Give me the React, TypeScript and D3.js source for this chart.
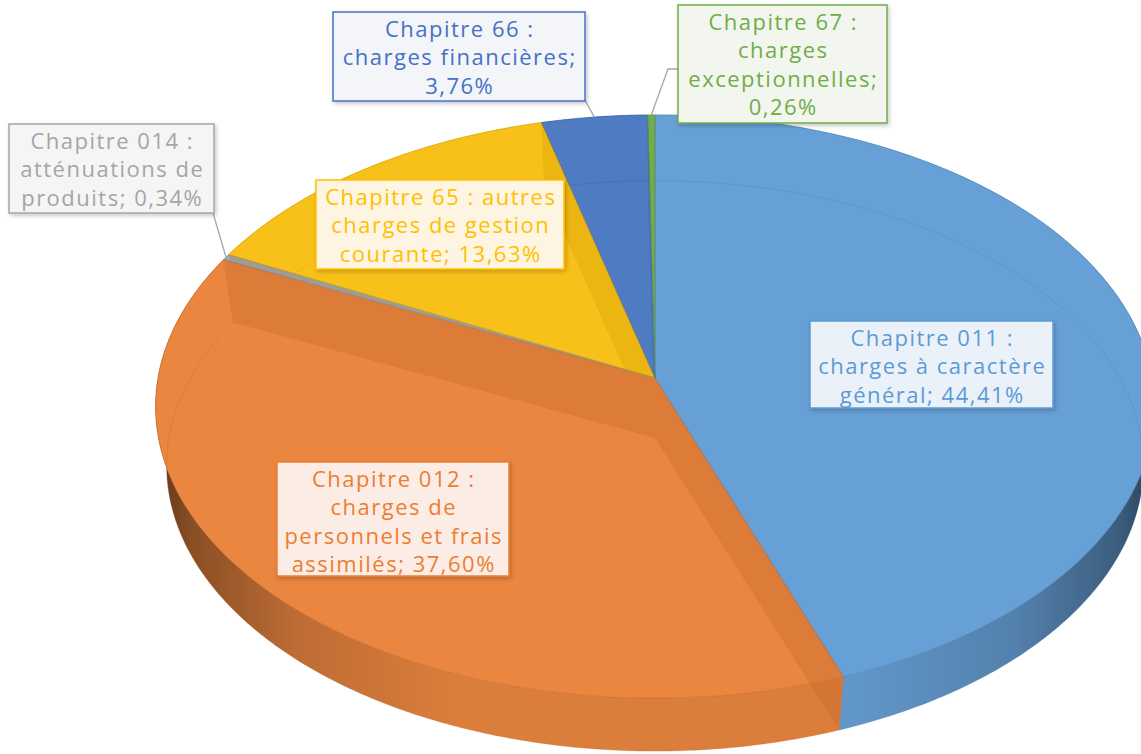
import React from "react";
import * as d3 from "d3";

// ---------- data ----------
const categories = [
  "Chapitre 011 : charges à caractère général",
  "Chapitre 012 : charges de personnels et frais assimilés",
  "Chapitre 014 : atténuations de produits",
  "Chapitre 65 : autres charges de gestion courante",
  "Chapitre 66 : charges financières",
  "Chapitre 67 : charges exceptionnelles",
];
const values = [44.41, 37.6, 0.34, 13.63, 3.76, 0.26];

// ---------- styles ----------
const colors = ["#5B9BD5", "#ED7D31", "#A5A5A5", "#FFC000", "#4472C4", "#70AD47"];
const topColors = ["#67a0d6", "#ea8640", "#a9a79f", "#f8c11a", "#4f7bc3", "#72ad4a"];
const labelFills = ["#ebf1f9", "#fbede6", "#f5f5f5", "#fdf5e2", "#f3f5f9", "#f2f6ef"];
const labelLineWords = [[3, 3, 2], [3, 2, 3, 2], [3, 2, 2], [4, 3, 2], [3, 2, 1], [3, 1, 1, 1]];
// label boxes: [x, y, w, h]
const labelBoxes = [
  [810, 321, 243, 87],
  [277, 462, 232, 114],
  [9, 124, 205, 89],
  [316, 180, 248, 89],
  [333, 12, 252, 89],
  [678, 5, 209, 118],
];
// leader line start points (null = none)
const leaderStarts: (number[][] | null)[] = [
  null,
  null,
  [[213, 213]],
  null,
  [[585, 100]],
  [[678, 69], [668, 69]],
];

// ---------- projection ----------
const W = 1141, H = 754;
const CX = 655, CY = 378;
const A = 497, B = 288.8, K = 0.0978;
const S = 0.978, DROP = 60;

function topPt(theta: number, r = 1): [number, number] {
  const u = r * Math.sin(theta), v = r * Math.cos(theta);
  const d = 1 + K * v;
  return [CX + (A * u) / d, CY - (B * v) / d];
}
function botPt(theta: number, r = 1): [number, number] {
  const [x, y] = topPt(theta, r);
  return [CX + S * (x - CX), CY + DROP + S * (y - CY)];
}
function arc(f: (t: number) => [number, number], a0: number, a1: number) {
  const n = Math.max(2, Math.ceil(Math.abs(a1 - a0) / (Math.PI / 360)));
  return d3.range(n + 1).map((i) => f(a0 + ((a1 - a0) * i) / n));
}
const line = d3.line();
const closed = (pts: [number, number][]) => (line(pts) as string) + "Z";

const fmt = (v: number) => d3.format(".2f")(v).replace(".", ",") + "%";

export default function App() {
  const pie = d3.pie<number>().sort(null).startAngle(0).endAngle(2 * Math.PI);
  const arcs = pie(values);

  const slices = arcs.map((a, i) => {
    const a0 = a.startAngle, a1 = a.endAngle;
    const topPath = closed([topPt(0, 0), ...arc((t) => topPt(t), a0, a1)]);
    const sidePath = closed([...arc((t) => topPt(t), a0, a1), ...arc((t) => botPt(t), a1, a0)]);
    const walls = [a0, a1].map((ang) => closed([topPt(0, 0), topPt(ang), botPt(ang), botPt(0, 0)]));
    const botRim = line(arc((t) => botPt(t), a0, a1)) as string;
    const mid = (a0 + a1) / 2;
    return { i, a0, a1, topPath, sidePath, walls, botRim, mid };
  });
  const fullTop = closed(arc((t) => topPt(t), 0, 2 * Math.PI));

  const grad = (c: string) => {
    const col = d3.color(c)!;
    return [
      [0, col.darker(2.6)],
      [0.035, col.darker(1.5)],
      [0.14, col.darker(0.6)],
      [0.3, col.darker(0.18)],
      [0.7, col.darker(0.18)],
      [0.86, col.darker(0.6)],
      [0.965, col.darker(1.5)],
      [1, col.darker(2.6)],
    ] as [number, d3.Color][];
  };

  return (
    <svg
      width={W}
      height={H}
      style={{ position: "absolute", left: 0, top: 0, background: "#fff" }}
      fontFamily="'Open Sans', Lato, sans-serif"
    >
      <defs>
        {topColors.map((c, i) => (
          <linearGradient key={i} id={`side${i}`} gradientUnits="userSpaceOnUse" x1={CX - A - 2} x2={CX + A + 2} y1={0} y2={0}>
            {grad(c).map(([o, col], j) => (
              <stop key={j} offset={o} stopColor={col.formatHex()} />
            ))}
          </linearGradient>
        ))}
        <clipPath id="outsideTop">
          <path d={`M-10,-10H${W + 10}V${H + 10}H-10Z` + fullTop} clipRule="evenodd" />
        </clipPath>
        {slices.map((s) => (
          <clipPath key={s.i} id={`clipTS${s.i}`}>
            <path d={s.topPath} />
            <path d={s.sidePath} clipPath="url(#outsideTop)" />
          </clipPath>
        ))}
        {slices.map((s) => (
          <clipPath key={s.i} id={`clipT${s.i}`}>
            <path d={s.topPath} />
          </clipPath>
        ))}
        <filter id="shadow" x="-10%" y="-10%" width="130%" height="140%">
          <feDropShadow dx="1.5" dy="2" stdDeviation="2" floodColor="#000" floodOpacity="0.22" />
        </filter>
      </defs>

      {/* side faces */}
      {slices.map((s) => (
        <path
          key={`side${s.i}`}
          d={s.sidePath}
          fill={`url(#side${s.i})`}
          stroke={d3.color(colors[s.i])!.darker(0.6).formatHex()}
          strokeWidth={0.6}
          strokeOpacity={0.5}
        />
      ))}
      {/* top faces */}
      {slices.map((s) => (
        <path key={`top${s.i}`} d={s.topPath} fill={topColors[s.i]} />
      ))}
      {/* walls seen through the translucent faces */}
      {slices.map((s) => (
        <g key={`walls${s.i}`} clipPath={`url(#clipTS${s.i})`}>
          {s.walls.map((w, j) => (
            <path key={j} d={w} fill={d3.color(colors[s.i])!.darker(0.6).formatHex()} fillOpacity={0.3} />
          ))}
        </g>
      ))}
      {/* bottom rim seen through */}
      {slices.map((s) => (
        <g key={`rim${s.i}`} clipPath={`url(#clipT${s.i})`}>
          <path d={s.botRim} fill="none" stroke={d3.color(colors[s.i])!.darker(0.5).formatHex()} strokeOpacity={0.3} strokeWidth={1} />
        </g>
      ))}
      {/* outlines */}
      {slices.map((s) => (
        <path
          key={`ol${s.i}`}
          d={s.topPath}
          fill="none"
          stroke={d3.color(colors[s.i])!.darker(0.5).formatHex()}
          strokeOpacity={0.6}
          strokeWidth={0.9}
          strokeLinejoin="round"
        />
      ))}

      {/* leader lines */}
      {slices.map((s) => {
        const st = leaderStarts[s.i];
        if (!st) return null;
        const pts = [...st, topPt(s.mid)] as [number, number][];
        return <path key={`ld${s.i}`} d={line(pts) as string} fill="none" stroke="#a6a6a6" strokeWidth={1.3} />;
      })}

      {/* labels */}
      {slices.map((s) => {
        const [x, y, w, h] = labelBoxes[s.i];
        const words = `${categories[s.i]}; ${fmt(values[s.i])}`.split(" ");
        const lines: string[] = [];
        let k = 0;
        labelLineWords[s.i].forEach((n) => {
          lines.push(words.slice(k, k + n).join(" "));
          k += n;
        });
        return (
          <g key={`lb${s.i}`}>
            <rect x={x} y={y} width={w} height={h} fill={labelFills[s.i]} stroke={colors[s.i]} strokeWidth={1.5} filter="url(#shadow)" />
            <text
              x={x + w / 2}
              y={y + 25}
              textAnchor="middle"
              fill={colors[s.i]}
              fontSize={22}
              letterSpacing={1.5}
            >
              {lines.map((l, j) => (
                <tspan key={j} x={x + w / 2 + 0.75} dy={j === 0 ? 0 : 28.3}>
                  {l}
                </tspan>
              ))}
            </text>
          </g>
        );
      })}
    </svg>
  );
}
